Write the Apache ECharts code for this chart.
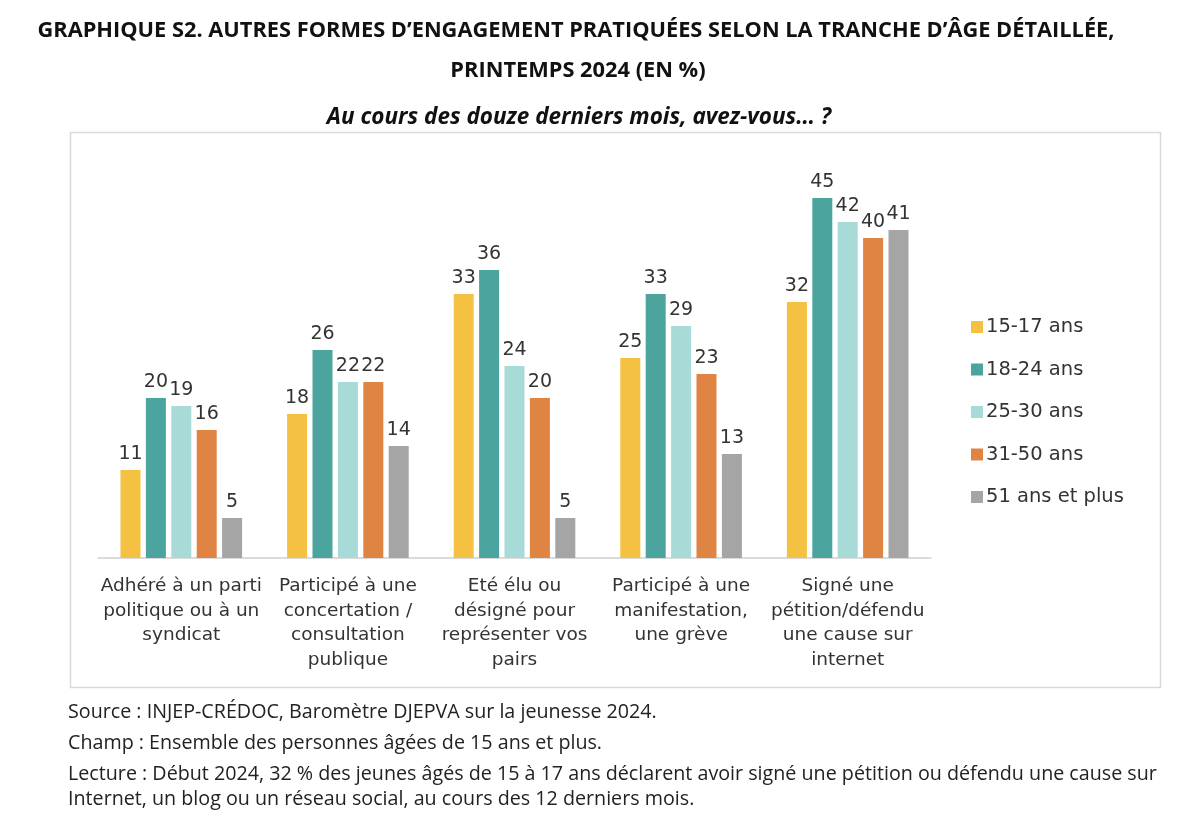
<!DOCTYPE html>
<html><head><meta charset="utf-8">
<script src="https://cdn.jsdelivr.net/npm/echarts@6/dist/echarts.min.js"></script>
<style>html,body{margin:0;padding:0;background:#fff}#c{width:1200px;height:826px}</style>
</head><body><div id="c"></div>
<script>
const categories = [
  "Adhéré à un parti\npolitique ou à un\nsyndicat",
  "Participé à une\nconcertation /\nconsultation\npublique",
  "Eté élu ou\ndésigné pour\nreprésenter vos\npairs",
  "Participé à une\nmanifestation,\nune grève",
  "Signé une\npétition/défendu\nune cause sur\ninternet"
];
const seriesNames = ["15-17 ans","18-24 ans","25-30 ans","31-50 ans","51 ans et plus"];
const v15_17 = [11, 18, 33, 25, 32];
const v18_24 = [20, 26, 36, 33, 45];
const v25_30 = [19, 22, 24, 29, 42];
const v31_50 = [16, 22, 20, 23, 40];
const v51plus = [5, 14, 5, 13, 41];
const colors = ["#F4C142","#4BA59E","#A8DAD8","#E08443","#A5A5A5"];
const allValues = [v15_17, v18_24, v25_30, v31_50, v51plus];

const bodyFont = "DejaVu Sans";
const headFont = "Open Sans";
const chart = echarts.init(document.getElementById('c'));
const series = allValues.map((vals, i) => ({
  name: seriesNames[i], type: 'bar', data: vals,
  barGap: '27%', barCategoryGap: '27%',
  itemStyle: {color: colors[i]},
  label: {show: true, position: 'top', distance: 6, color: '#333', fontSize: 19, fontFamily: bodyFont}
}));
const foot = {fontFamily: headFont, fontWeight: 'normal', fontSize: 19.7, color: '#222'};
chart.setOption({
  animation: false,
  title: [
    {text: "GRAPHIQUE S2. AUTRES FORMES D’ENGAGEMENT PRATIQUÉES SELON LA TRANCHE D’ÂGE DÉTAILLÉE,", left: 576, top: 20, padding: 0, textAlign: 'center',
     textStyle: {fontFamily: headFont, fontWeight: 'bold', fontSize: 21.8, color: '#111'}},
    {text: "PRINTEMPS 2024 (EN %)", left: 578, top: 60, padding: 0, textAlign: 'center',
     textStyle: {fontFamily: headFont, fontWeight: 'bold', fontSize: 21.8, color: '#111'}},
    {text: "Au cours des douze derniers mois, avez-vous… ?", left: 579, top: 106, padding: 0, textAlign: 'center',
     textStyle: {fontFamily: headFont, fontStyle: 'italic', fontWeight: 'bold', fontSize: 22.5, color: '#111'}},
    {text: "Source : INJEP-CRÉDOC, Baromètre DJEPVA sur la jeunesse 2024.", left: 68, top: 702, padding: 0, textStyle: foot},
    {text: "Champ : Ensemble des personnes âgées de 15 ans et plus.", left: 68, top: 733, padding: 0, textStyle: foot},
    {text: "Lecture : Début 2024, 32 % des jeunes âgés de 15 à 17 ans déclarent avoir signé une pétition ou défendu une cause sur", left: 68, top: 764, padding: 0, textStyle: foot},
    {text: "Internet, un blog ou un réseau social, au cours des 12 derniers mois.", left: 68, top: 789, padding: 0, textStyle: foot}
  ],
  graphic: [{type: 'rect', left: 68, top: 130, shape: {width: 1090, height: 555},
    style: {fill: 'none', stroke: '#d9d9d9', lineWidth: 1.5}, silent: true}],
  legend: {
    orient: 'vertical', left: 966, top: 312, itemWidth: 12, itemHeight: 12, itemGap: 22.5,
    icon: 'rect', data: seriesNames,
    textStyle: {fontFamily: bodyFont, fontSize: 19.5, color: '#333', padding: [0,0,0,-2]}
  },
  grid: {left: 98, top: 158, width: 833, height: 400},
  xAxis: {
    type: 'category', data: categories,
    axisLine: {lineStyle: {color: '#d0d0d0', width: 1.5}},
    axisTick: {show: false},
    axisLabel: {interval: 0, margin: 16, fontFamily: bodyFont, fontSize: 18.5, lineHeight: 24.5, color: '#333', align: 'center'}
  },
  yAxis: {type: 'value', min: 0, max: 50, show: false, splitLine: {show: false}},
  series: series
});
</script></body></html>
